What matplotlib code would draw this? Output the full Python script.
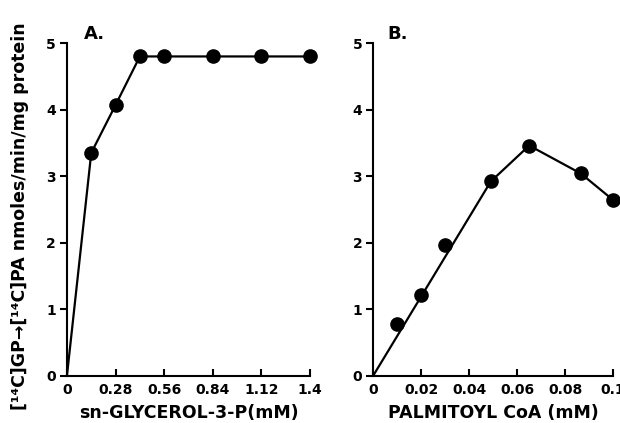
import matplotlib
matplotlib.use("Agg")
import matplotlib.pyplot as plt

# Panel A data (line starts at origin, markers only at measured points)
a_line_x = [0, 0.14, 0.28, 0.42, 0.56, 0.84, 1.12, 1.4]
a_line_y = [0, 3.35, 4.07, 4.8, 4.8, 4.8, 4.8, 4.8]
a_x = [0.14, 0.28, 0.42, 0.56, 0.84, 1.12, 1.4]
a_y = [3.35, 4.07, 4.8, 4.8, 4.8, 4.8, 4.8]
a_xticks = [0, 0.28, 0.56, 0.84, 1.12, 1.4]
a_xticklabels = ["0", "0.28", "0.56", "0.84", "1.12", "1.4"]

# Panel B data (points and fitted line)
b_x = [0.01, 0.02, 0.03, 0.049, 0.065, 0.0865, 0.1]
b_y = [0.78, 1.21, 1.97, 2.92, 3.46, 3.04, 2.64]
b_line_x = [0, 0.049, 0.065, 0.0865, 0.1]
b_line_y = [0, 2.92, 3.46, 3.04, 2.64]
b_xticks = [0, 0.02, 0.04, 0.06, 0.08, 0.1]
b_xticklabels = ["0", "0.02", "0.04", "0.06", "0.08", "0.1"]

y_ticks = [0, 1, 2, 3, 4, 5]

plt.rcParams['font.family'] = ['DejaVu Sans']
fig = plt.figure(figsize=(6.2, 4.23), dpi=100)
axA = fig.add_axes([0.108, 0.112, 0.392, 0.786])
axB = fig.add_axes([0.602, 0.112, 0.387, 0.786])

def style(ax, xmax, xticks, xlabels, xlabel, title, title_x):
    ax.set_xlim(0, xmax)
    ax.set_ylim(0, 5)
    for s in ["top", "right"]:
        ax.spines[s].set_visible(False)
    for s in ["left", "bottom"]:
        ax.spines[s].set_linewidth(1.5)
    ax.set_xticks(xticks)
    ax.set_xticklabels(xlabels, fontsize=10, fontweight="bold")
    ax.set_yticks(y_ticks)
    ax.set_yticklabels([str(t) for t in y_ticks], fontsize=10, fontweight="bold")
    ax.tick_params(axis="x", direction="in", length=5, width=1.5, pad=5)
    ax.tick_params(axis="y", direction="out", length=5, width=1.5, pad=3)
    ax.set_xlabel(xlabel, fontsize=12.5, fontweight="bold", labelpad=5)
    ax.text(title_x, 1.0, title, transform=ax.transAxes, fontsize=13,
            fontweight="bold", va="bottom", ha="left")

axA.plot(a_line_x, a_line_y, color="black", lw=1.6, clip_on=False, zorder=2)
axA.plot(a_x, a_y, "o", color="black", ms=9.5, clip_on=False, zorder=3)
style(axA, 1.4, a_xticks, a_xticklabels, "sn-GLYCEROL-3-P(mM)", "A.", 0.07)

axB.plot(b_line_x, b_line_y, color="black", lw=1.6, clip_on=False, zorder=2)
axB.plot(b_x, b_y, "o", color="black", ms=9.5, clip_on=False, zorder=3)
style(axB, 0.1, b_xticks, b_xticklabels, "PALMITOYL CoA (mM)", "B.", 0.06)

fig.text(0.032, 0.49, "[¹⁴C]GP→[¹⁴C]PA nmoles/min/mg protein", rotation=90,
         fontsize=12.5, fontweight="bold", ha="center", va="center")

fig.savefig("out.png", dpi=100)
